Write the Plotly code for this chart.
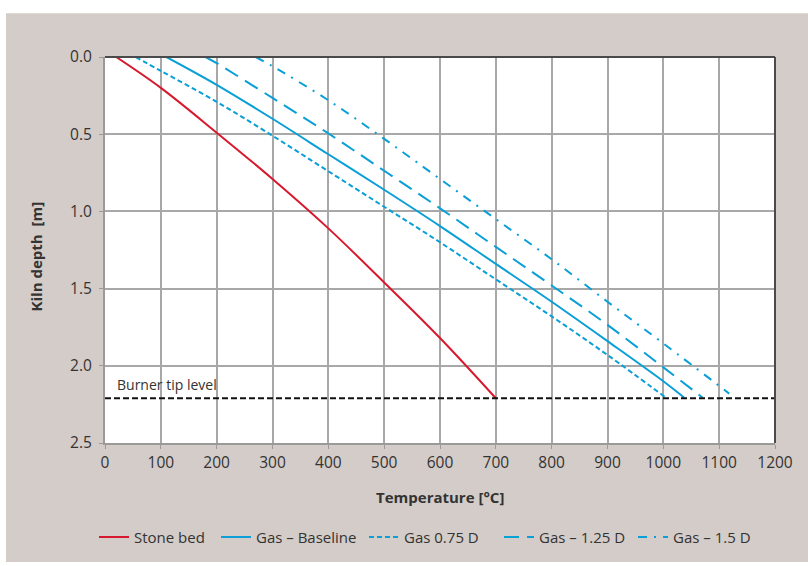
import plotly.graph_objects as go

# ---- data ----
stone_t = [20, 100, 200, 300, 400, 500, 600, 700]
stone_d = [0.0, 0.20, 0.49, 0.79, 1.11, 1.46, 1.82, 2.21]

base_t = [110, 200, 300, 400, 500, 600, 700, 800, 900, 1000, 1037]
base_d = [0.0, 0.18, 0.40, 0.63, 0.86, 1.095, 1.34, 1.585, 1.84, 2.10, 2.205]

g075_t = [55, 100, 200, 300, 400, 500, 600, 700, 800, 900, 1004]
g075_d = [0.0, 0.09, 0.29, 0.51, 0.74, 0.97, 1.20, 1.44, 1.68, 1.93, 2.205]

g125_t = [180, 200, 300, 400, 500, 600, 700, 800, 900, 1000, 1070]
g125_d = [0.0, 0.04, 0.265, 0.495, 0.737, 0.98, 1.23, 1.48, 1.735, 2.01, 2.205]

g150_t = [270, 300, 400, 500, 600, 700, 800, 900, 1000, 1118]
g150_d = [0.0, 0.06, 0.28, 0.53, 0.79, 1.05, 1.31, 1.585, 1.855, 2.18]

burner_t = [0, 1200]
burner_d = [2.21, 2.21]
burner_label = "Burner tip level"

series_names = ["Stone bed", "Gas – Baseline", "Gas 0.75 D", "Gas – 1.25 D", "Gas – 1.5 D"]

x_ticks = list(range(0, 1201, 100))
y_ticks = [0.0, 0.5, 1.0, 1.5, 2.0, 2.5]

RED = "#d7192d"
BLUE = "#0a9fd6"
TXT = "#333333"
FONT = "Open Sans"

# plot geometry
L, R, T, B = 105, 33, 57, 120
W, H = 808, 566
pw, ph = W - L - R, H - T - B

def px_to_paper_x(px):
    return (px - L) / pw

def px_to_paper_y(py):
    return (H - B - py) / ph

styles = [
    dict(color=RED, width=2),
    dict(color=BLUE, width=2),
    dict(color=BLUE, width=2, dash="5px,3px"),
    dict(color=BLUE, width=2, dash="15px,8px"),
    dict(color=BLUE, width=2, dash="9px,7px,2px,7px"),
]
xs = [stone_t, base_t, g075_t, g125_t, g150_t]
ys = [stone_d, base_d, g075_d, g125_d, g150_d]
legend_ids = ["legend", "legend2", "legend3", "legend4", "legend5"]
legend_px = [99, 221, 369, 504, 638]

fig = go.Figure()
for name, x, y, st, lid in zip(series_names, xs, ys, styles, legend_ids):
    fig.add_trace(go.Scatter(x=x, y=y, mode="lines", name=name, line=st,
                             line_shape="spline", legend=lid))
fig.add_trace(go.Scatter(x=burner_t, y=burner_d, mode="lines", showlegend=False,
                         line=dict(color="#111111", width=2, dash="6px,3px")))

shapes = [
    dict(type="rect", xref="paper", yref="paper", layer="below",
         x0=px_to_paper_x(6), x1=px_to_paper_x(808), y0=px_to_paper_y(566), y1=px_to_paper_y(13),
         fillcolor="#d4ccc8", line=dict(width=0)),
    dict(type="rect", xref="paper", yref="paper", layer="below",
         x0=0, x1=1, y0=0, y1=1, fillcolor="white", line=dict(width=0)),
    dict(type="line", xref="paper", yref="paper", x0=0, x1=1, y0=1, y1=1,
         line=dict(color="#4a4a4a", width=2)),
    dict(type="line", xref="paper", yref="paper", x0=1, x1=1, y0=0, y1=1,
         line=dict(color="#4a4a4a", width=2)),
]

annotations = [
    dict(text="Temperature [°C]", xref="paper", yref="paper", x=0.5, y=px_to_paper_y(500),
         xanchor="center", yanchor="middle", showarrow=False,
         font=dict(family=FONT, size=15, color=TXT, weight="bold")),
    dict(text="Kiln depth  [m]", xref="paper", yref="paper", x=px_to_paper_x(36),
         y=px_to_paper_y(258), xanchor="center", yanchor="middle", textangle=-90,
         showarrow=False, font=dict(family=FONT, size=15, color=TXT, weight="bold")),
    dict(text=burner_label, xref="x", yref="y", x=18, y=2.12, xanchor="left",
         yanchor="middle", showarrow=False, font=dict(family=FONT, size=14, color=TXT)),
]

layout_legends = {}
for lid, lx in zip(legend_ids, legend_px):
    layout_legends[lid] = dict(
        orientation="h", x=px_to_paper_x(lx - 5), xanchor="left",
        y=px_to_paper_y(541), yanchor="middle", bgcolor="rgba(0,0,0,0)",
        borderwidth=0, font=dict(family=FONT, size=15, color=TXT), itemwidth=30)

fig.update_layout(
    width=W, height=H, autosize=False,
    margin=dict(l=L, r=R, t=T, b=B, pad=0),
    paper_bgcolor="white", plot_bgcolor="white",
    shapes=shapes, annotations=annotations,
    font=dict(family=FONT, color=TXT),
    showlegend=True,
    **layout_legends,
)
fig.update_xaxes(range=[0, 1200], tickvals=x_ticks, showgrid=True, gridcolor="#a8a8a8",
                 gridwidth=2, showline=True, linecolor="#9a9a9a", linewidth=2,
                 ticks="outside", ticklen=4, tickcolor="#9a9a9a", tickwidth=1,
                 tickfont=dict(family=FONT, size=15.5, color=TXT), zeroline=False)
fig.update_yaxes(range=[2.5, 0], tickvals=y_ticks, tickformat=".1f", showgrid=True,
                 gridcolor="#a8a8a8", gridwidth=2, showline=True, linecolor="#9a9a9a",
                 linewidth=2, ticks="outside", ticklen=4, tickcolor="#9a9a9a", tickwidth=1,
                 tickfont=dict(family=FONT, size=15.5, color=TXT), zeroline=False,
                 ticklabelstandoff=4)

fig.write_html("out.html")
